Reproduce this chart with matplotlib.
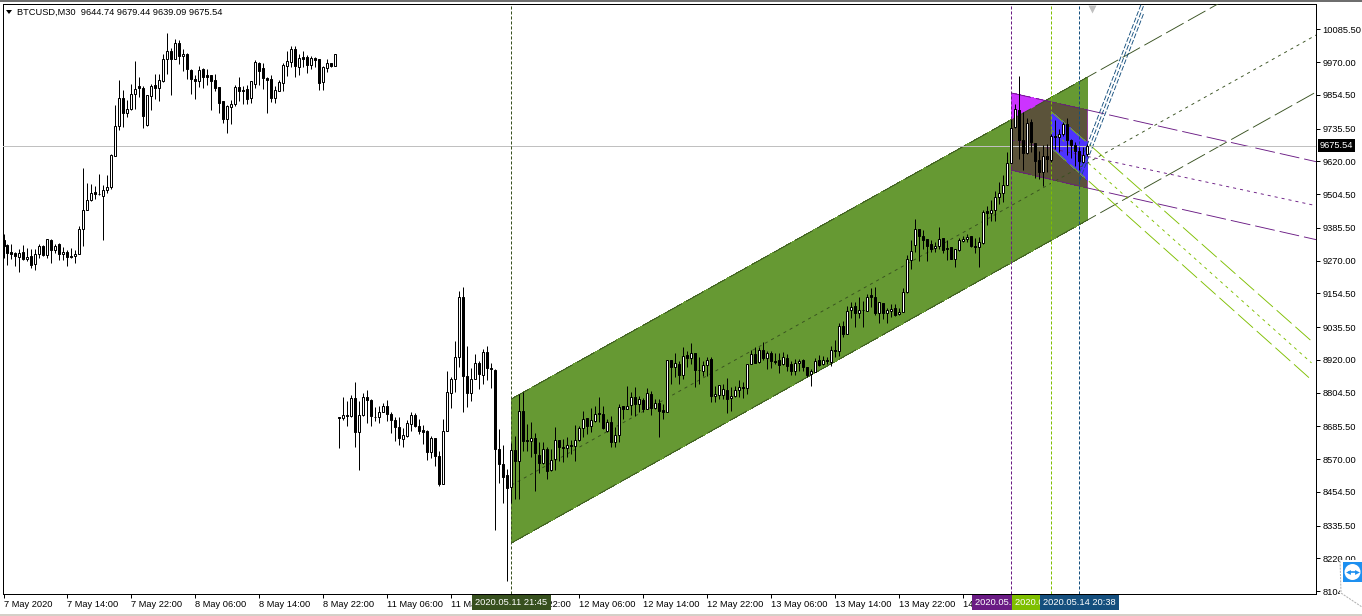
import matplotlib
matplotlib.use('Agg')
from matplotlib import pyplot as plt
from matplotlib.patches import Polygon, Rectangle, Circle

plt.rcParams['font.family'] = ['Liberation Sans', 'DejaVu Sans']
plt.rcParams['lines.scale_dashes'] = False

W, H = 1362, 616
FONT = 6.7
PX = 0.72

opens = [9341,9324,9299,9295,9282,9299,9275,9287,9259,9293,9322,9289,9344,9307,9327,9293,9301,9287,9286,9293,
    9382,9448,9482,9511,9506,9498,9520,9530,9640,9745,9844,9790,9804,9858,9884,9880,9747,9850,9888,9878,9903,
    9982,10008,9982,10039,9992,10000,9943,9912,9903,9945,9923,9923,9906,9881,9832,9769,9812,9823,9881,9873,9874,9843,9894,
    9966,9948,9915,9909,9843,9868,9896,9956,9971,10015,9954,9987,9987,9959,9983,9980,9900,9949,9966,9956,
    8718,8716,8725,8721,8785,8664,8724,8789,8778,8719,8717,8735,8757,8729,8708,8683,8641,8652,8692,8725,8688,8672,8669,8593,
    8644,8581,8483,8669,8803,8851,8930,9142,8863,8802,8851,8909,8865,8949,8892,8884,8607,8554,8512,8473,8602,8562,8741,8638,
    8632,8644,8584,8556,8605,8531,8570,8637,8614,8608,8621,8615,8637,8680,8715,8686,8703,8731,8729,8670,8702,8631,8655,8758,
    8748,8761,8790,8763,8778,8747,8800,8749,8769,8744,8735,8921,8894,8906,
    8868,8936,8925,8945,8885,8879,8902,8924,8791,8795,8795,8813,8784,8792,8812,8824,8819,8905,8942,8911,8956,8925,8944,8917,
    8921,8904,8928,8904,8882,8908,8918,8896,8869,8878,8918,8904,8921,8911,8956,8950,9039,9010,9096,9109,9084,9097,9091,9147,
    9142,9084,9121,9084,9091,9101,9082,9090,9158,9272,9325,9382,9358,9347,9327,9314,9321,9350,9315,9318,9275,9307,9340,9347,
    9355,9323,9317,9331,9443,9438,9449,9494,9508,9536,9615,9741,9802,9694,9648,9757,9684,9623,9584,9640,9623,9709,9706,9717,
    9750,9696,9676,9658,9617,9644.74]
closes = [9320,9296,9292,9285,9298,9275,9284,9256,9294,9322,9288,9347,9307,9322,9293,9301,9282,9281,9294,9382,
    9449,9484,9509,9505,9504,9520,9531,9641,9745,9844,9790,9805,9858,9876,9878,9780,9853,9887,9878,9906,9982,
    10008,9980,10039,9992,10000,9947,9912,9903,9943,9918,9916,9903,9879,9826,9768,9814,9823,9881,9869,9868,9841,9902,9971,
    9939,9914,9907,9843,9870,9899,9959,9973,10015,9956,9983,9981,9959,9986,9978,9895,9952,9966,9956,9998,
    8716,8725,8721,8785,8664,8725,8789,8777,8721,8717,8736,8757,8728,8708,8682,8643,8655,8697,8725,8685,8670,8666,8593,8645,
    8579,8483,8669,8807,8852,8930,9142,8863,8802,8852,8909,8869,8949,8890,8887,8604,8554,8508,8469,8603,8562,8741,8635,8632,
    8644,8590,8557,8605,8529,8567,8637,8611,8608,8618,8617,8637,8680,8711,8686,8706,8729,8729,8678,8702,8631,8656,8755,8748,
    8758,8790,8763,8782,8746,8803,8750,8767,8741,8735,8920,8894,8909,8867,
    8933,8925,8944,8883,8883,8902,8919,8791,8798,8831,8817,8780,8792,8813,8824,8819,8906,8941,8910,8956,8925,8944,8917,8911,
    8901,8931,8897,8882,8909,8917,8893,8868,8880,8916,8901,8921,8917,8955,8950,9039,9010,9092,9105,9085,9096,9094,9141,9141,
    9084,9124,9084,9094,9099,9079,9089,9159,9275,9304,9382,9355,9344,9323,9311,9322,9347,9307,9310,9274,9311,9341,9347,9354,
    9321,9317,9336,9442,9438,9449,9494,9509,9536,9615,9739,9806,9694,9649,9756,9688,9621,9584,9640,9627,9708,9706,9717,9750,
    9696,9678,9658,9621,9641,9675.54]
highs = [9362,9329,9327,9300,9309,9324,9315,9309,9309,9329,9324,9347,9345,9329,9333,9318,9306,9313,9306,9393,
    9598,9545,9539,9532,9577,9535,9571,9647,9817,9906,9870,9835,9894,9973,9917,9884,9853,9894,9927,9929,10000,
    10071,10020,10053,10049,10015,10003,9947,9923,9955,9949,9947,9926,9929,9883,9832,9818,9835,9888,9918,9886,9888,9902,9976,
    9971,9965,9918,9923,9886,9908,9968,10008,10025,10026,10000,10009,9994,9991,9988,9982,9956,9982,9966,10000,
    8718,8790,8776,8797,8843,8776,8803,8815,8782,8755,8758,8768,8778,8735,8718,8719,8679,8708,8735,8732,8711,8690,8674,8652,
    8645,8599,8711,8882,8861,8988,9161,9175,8970,8891,8941,8914,8958,8967,8908,8888,8676,8621,8536,8625,8650,8800,8806,8694,
    8702,8661,8629,8629,8611,8605,8684,8637,8641,8647,8637,8690,8688,8741,8715,8749,8758,8788,8758,8711,8720,8682,8764,8758,
    8829,8806,8823,8794,8786,8820,8811,8780,8782,8764,8920,8921,8944,8915,
    8964,8952,8979,8945,8931,8917,8929,8929,8829,8831,8835,8856,8825,8829,8849,8840,8906,8956,8966,8964,8984,8952,8950,8944,
    8943,8946,8941,8917,8923,8923,8923,8896,8888,8926,8938,8933,8929,8970,8991,9049,9058,9108,9123,9123,9141,9129,9152,9174,
    9178,9124,9121,9103,9117,9115,9103,9174,9288,9343,9415,9382,9378,9347,9343,9335,9390,9350,9341,9318,9311,9350,9355,9364,
    9355,9350,9352,9447,9464,9482,9517,9547,9570,9653,9770,9823,9920,9794,9773,9770,9684,9656,9676,9680,9717,9764,9735,9758,
    9774,9700,9688,9670,9670,9679.44]
lows = [9280,9253,9276,9251,9229,9271,9269,9242,9235,9279,9285,9279,9261,9296,9272,9273,9251,9279,9261,9293,
    9321,9448,9480,9486,9500,9342,9508,9521,9640,9731,9741,9776,9802,9805,9847,9738,9743,9802,9841,9833,9900,
    9927,9853,9980,9962,9939,9912,9859,9839,9882,9879,9888,9800,9867,9790,9755,9720,9752,9814,9832,9821,9823,9827,9879,
    9890,9874,9789,9829,9826,9867,9868,9920,9953,9918,9923,9951,9932,9945,9953,9873,9873,9935,9953,9956,
    8608,8708,8685,8717,8614,8533,8721,8696,8688,8705,8696,8735,8703,8661,8635,8621,8614,8646,8670,8682,8658,8624,8566,8572,
    8546,8476,8482,8668,8749,8808,8896,8737,8752,8776,8851,8817,8835,8850,8819,8321,8487,8416,8141,8416,8430,8428,8600,8597,
    8578,8458,8520,8552,8500,8529,8531,8564,8561,8576,8588,8564,8635,8647,8658,8664,8700,8700,8676,8664,8611,8611,8629,8711,
    8748,8727,8720,8735,8735,8747,8727,8747,8647,8711,8735,8835,8861,8835,
    8852,8893,8905,8825,8835,8864,8864,8770,8772,8782,8782,8731,8740,8788,8788,8784,8799,8905,8908,8909,8919,8886,8890,8905,
    8872,8903,8882,8866,8866,8882,8879,8858,8826,8878,8899,8903,8905,8899,8929,8932,9000,9010,9068,9037,9068,9037,9091,9105,
    9078,9049,9064,9049,9070,9076,9079,9088,9156,9241,9300,9270,9311,9268,9300,9300,9311,9296,9272,9274,9249,9305,9335,9335,
    9317,9296,9249,9329,9397,9409,9409,9470,9476,9536,9614,9739,9629,9588,9647,9653,9562,9558,9533,9582,9617,9664,9653,9711,
    9641,9633,9605,9588,9614,9639.09]

price_ticks = [10085.5,9970,9854.5,9735.5,9620,9504.5,9385.5,9270,9154.5,9035.5,8920,8804.5,8685.5,8570,8454.5,8335.5,8220,8104.5]
time_ticks = [0,16,32,48,64,80,96,112,128,144,160,176,192,208,224,240,256]
time_labels = ['7 May 2020','7 May 14:00','7 May 22:00','8 May 06:00','8 May 14:00','8 May 22:00','11 May 06:00',
    '11 May 14:00','11 May 22:00','12 May 06:00','12 May 14:00','12 May 22:00','13 May 06:00','13 May 14:00',
    '13 May 22:00','14 May 06:00','14 May 14:00']

# drawn objects: bar index and price at each anchor
green_bars = [127, 271, 329]
green_top = [8782, 9917, 10376]
green_low = [8274, 9413, 9871]
green_mid = [8478, 10072]
purple_bars = [252, 271, 329]
purple_top = [9861, 9801, 9616]
purple_low = [9589, 9526, 9341]
purple_mid = [9695, 9461]
lime_bars = [262, 271, 327]
lime_top = [9794, 9685, 8986]
lime_low = [9667, 9554, 8849]
lime_mid = [9730, 8909]
navy_bars = [269, 285]
navy_a = [9607, 10196]
navy_b = [9579, 10168]
navy_c = [9551, 10140]
last_price = 9675.54

vline_bars = [127, 252, 262, 269]
vline_labels = ['2020.05.11 21:45', '2020.05.14 12:00', '2020.05.14 17:00', '2020.05.14 20:38']
c_green = '#669933'
c_dgreen = '#37501f'
c_purple = '#6a1b84'
c_lime = '#7fbf00'
c_navy = '#154f7e'
vline_colors = [c_dgreen, c_purple, c_lime, c_navy]

fig = plt.figure(figsize=(W/100, H/100), dpi=100)
ax = fig.add_axes([2.5/W, 1-593.5/H, 1314/W, 590/H])
ax.set_xlim(-0.25, 328.25)
ax.set_ylim(8095.7, 10176.6)

for s in ax.spines.values():
    s.set_linewidth(PX)
ax.yaxis.tick_right()
ax.set_yticks(price_ticks)
ax.set_yticklabels(['%.2f' % p for p in price_ticks], fontsize=FONT)
ax.set_xticks(time_ticks)
ax.set_xticklabels(time_labels, fontsize=FONT, ha='left')
ax.tick_params(axis='both', length=2.9, width=PX, pad=1.2)
ax.tick_params(axis='x', pad=1.6)

# filled channels
green = Polygon(list(zip(green_bars[:2], green_top[:2])) + list(zip(green_bars[1::-1], green_low[1::-1])),
                fc=c_green, ec='none', antialiased=False, zorder=1)
ax.add_patch(green)
purple_pts = list(zip(purple_bars[:2], purple_top[:2])) + list(zip(purple_bars[1::-1], purple_low[1::-1]))
ax.add_patch(Polygon(purple_pts, fc='#cc33ff', ec='none', antialiased=False, zorder=2))
brown = Polygon(purple_pts, fc='#5b533a', ec='none', antialiased=False, zorder=3)
ax.add_patch(brown)
brown.set_clip_path(green)
ax.add_patch(Polygon(list(zip(lime_bars[:2], lime_top[:2])) + list(zip(lime_bars[1::-1], lime_low[1::-1])),
                     fc='#4d33ff', ec='none', antialiased=False, zorder=4))

long_dash = (0, (14.4, 3.6))
short_dash = (0, (2.2, 2.9))
def trend(x, y, color, ls):
    ax.plot(x, y, color=color, lw=0.65, ls=ls, zorder=5)

trend(green_bars, green_top, c_dgreen, long_dash)
trend(green_bars, green_low, c_dgreen, long_dash)
trend([green_bars[0], green_bars[2]], green_mid, c_dgreen, short_dash)
trend(purple_bars, purple_top, c_purple, long_dash)
trend(purple_bars, purple_low, c_purple, long_dash)
trend([purple_bars[0], purple_bars[2]], purple_mid, c_purple, short_dash)
trend(lime_bars, lime_top, c_lime, long_dash)
trend(lime_bars, lime_low, c_lime, long_dash)
trend([lime_bars[0], lime_bars[2]], lime_mid, c_lime, short_dash)
for navy in [navy_a, navy_b, navy_c]:
    trend(navy_bars, navy, c_navy, (0, (3.6, 1.4)))

ax.axhline(last_price, color='#c0c0c0', lw=PX, zorder=6)
for k, c in zip(vline_bars, vline_colors):
    ax.axvline(k, color=c, lw=PX, ls=(0, (2.2, 1.4)), zorder=6)

# candles
bars = list(range(len(opens)))
ax.vlines(bars, lows, highs, color='black', lw=PX, zorder=7)
bottoms = [min(o, c) for o, c in zip(opens, closes)]
heights = [abs(o - c) for o, c in zip(opens, closes)]
faces = ['white' if c > o else 'black' for o, c in zip(opens, closes)]
ax.bar(bars, heights, bottom=bottoms, width=0.5, color=faces, edgecolor='black', linewidth=PX, zorder=8)

ax.plot([272.2], [10158], marker='v', ms=6, color='#c0c0c0', mec='none', clip_on=False, zorder=9)

# labels under the time scale and price tag
for i, (k, t, c) in enumerate(zip(vline_bars, vline_labels, vline_colors)):
    ax.text(k, -0.0155, t, transform=ax.get_xaxis_transform(), color='white', fontsize=FONT, ha='center', va='center',
            bbox=dict(boxstyle='square,pad=0.32', fc=c, ec='none'), zorder=20 + i, clip_on=False)
ax.text(1.0025, last_price, '%.2f' % last_price, transform=ax.get_yaxis_transform(), color='white', fontsize=FONT,
        ha='left', va='center', bbox=dict(boxstyle='square,pad=0.2', fc='black', ec='none'), zorder=20, clip_on=False)

# header
def p(x, y):
    return (x / W, 1 - y / H)

fig.add_artist(Polygon([p(6, 10), p(12, 10), p(9, 14)], fc='black', ec='none', transform=fig.transFigure))
fig.text(*p(17, 12.5), 'BTCUSD,M30  9644.74 9679.44 9639.09 9675.54', fontsize=FONT, va='center')

# window edges and the remote desktop badge
fig.add_artist(Rectangle(p(0, 2), 1, 2/H, fc='#6e6e6e', ec='none', transform=fig.transFigure))
fig.add_artist(Rectangle(p(0, H), 1, 2/H, fc='#d4d0c8', ec='none', transform=fig.transFigure))
fig.add_artist(Rectangle(p(1340, 612), 22/W, 52/H, fc='white', ec='none', transform=fig.transFigure, zorder=30))
fig.add_artist(plt.Line2D([1340/W, 1341/W, 1362/W], [1-558/H, 1-593/H, 1-607/H], color='#b0b0b0', lw=PX, ls=(0, (1.5, 0.8)), zorder=31))
fig.add_artist(Rectangle(p(1343, 582), 19/W, 20/H, fc='#1e90f0', ec='none', transform=fig.transFigure, zorder=32))
fig.add_artist(Circle((1352.5, H - 572), 8, fc='white', ec='none', transform=None, zorder=33))
fig.add_artist(plt.Line2D([1349/W, 1356/W], [1-572/H, 1-572/H], color='#1e90f0', lw=1.2, zorder=34))
fig.add_artist(plt.Line2D([1348/W], [1-572/H], marker='<', ms=3.5, color='#1e90f0', mec='none', zorder=34))
fig.add_artist(plt.Line2D([1357/W], [1-572/H], marker='>', ms=3.5, color='#1e90f0', mec='none', zorder=34))

fig.savefig('out.png', dpi=100)
